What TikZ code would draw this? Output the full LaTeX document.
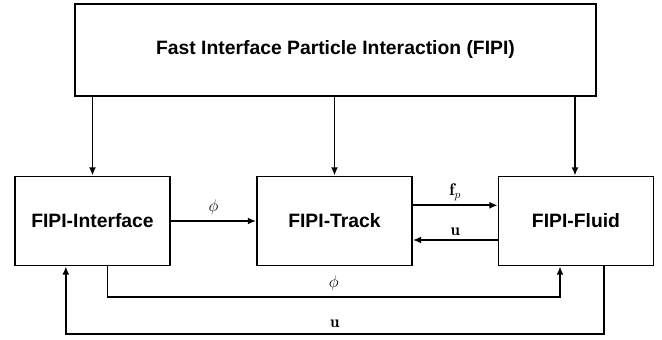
\documentclass[tikz,border=0pt]{standalone}
\usepackage{amsmath,amssymb}
\usepackage{fontspec}
\setsansfont{Liberation Sans}
\usetikzlibrary{arrows.meta,positioning,calc}

\begin{document}
\begin{tikzpicture}[x=0.03cm, y=-0.03cm,
    block/.style={draw, line width=1.6pt, minimum height=2.67cm, font=\sffamily\bfseries\fontsize{16.5}{19}\selectfont},
    link/.style={-{Latex[length=7pt,width=6pt]}, line width=1.6pt},
    lbl/.style={font=\Large}]
    \useasboundingbox (0,0) rectangle (662,340);
    % Top module
    \node[block, minimum width=15.63cm, minimum height=2.76cm] (fipi) at (335.5,50) {Fast Interface Particle Interaction (FIPI)};
    % Sub modules
    \node[block, minimum width=4.65cm] (iface) at (92.5,221) {FIPI-Interface};
    \node[block, minimum width=4.65cm] (track) at (334.5,221) {FIPI-Track};
    \node[block, minimum width=4.65cm] (fluid) at (576,221) {FIPI-Fluid};

    % From top module
    \draw[link] (fipi.south -| iface) -- (iface);
    \draw[link] (fipi.south -| track) -- (track);
    \draw[link] ([xshift=-0.03cm]fipi.south -| fluid) -- ([xshift=-0.03cm]fluid.north);

    % Between modules
    \draw[link] (iface) -- node[lbl, above=1pt] {$\phi$} (track);
    \draw[link] ([yshift=0.47cm]track.east) -- node[lbl, above=0pt] {$\mathbf{f}_p$} ([yshift=0.47cm]fluid.west);
    \draw[link] ([yshift=-0.57cm]fluid.west) -- node[lbl, above=0pt] {$\mathbf{u}$} ([yshift=-0.57cm]track.east);

    % Loops below
    \coordinate (phiA) at ([xshift=0.45cm]iface.south);
    \coordinate (phiB) at ([xshift=-0.48cm]fluid.south);
    \draw[link] (phiA) -- (phiA |- 0,297) -- node[lbl, above=1pt] {$\phi$} (phiB |- 0,297) -- (phiB);
    \coordinate (uA) at ([xshift=0.84cm]fluid.south);
    \coordinate (uB) at ([xshift=-0.8cm]iface.south);
    \draw[link] (uA) -- (uA |- 0,334) -- node[lbl, above=1pt] {$\mathbf{u}$} (uB |- 0,334) -- (uB);
\end{tikzpicture}
\end{document}
